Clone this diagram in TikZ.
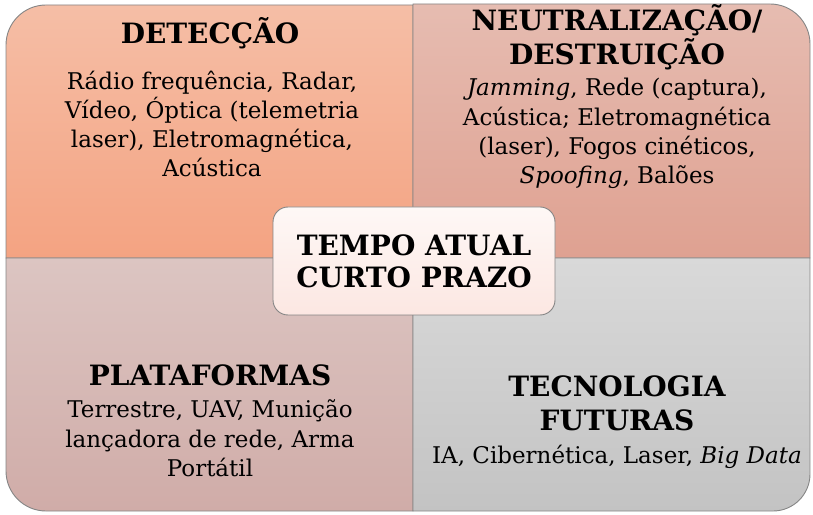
\documentclass[tikz,border=0pt]{standalone}
\usepackage{fontspec}
\setmainfont{DejaVu Serif}
\definecolor{tlTop}{HTML}{F5BEA6}\definecolor{tlBot}{HTML}{F4A382}
\definecolor{trTop}{HTML}{E6BCB1}\definecolor{trBot}{HTML}{DFA191}
\definecolor{blTop}{HTML}{DCC5C2}\definecolor{blBot}{HTML}{D0ACA8}
\definecolor{brTop}{HTML}{D9D9D9}\definecolor{brBot}{HTML}{C3C3C3}
\definecolor{cTop}{HTML}{FEF8F6}\definecolor{cBot}{HTML}{FCE7E2}
\definecolor{edge}{HTML}{858585}
\tikzset{
  quad/.style={draw=edge, line width=0.9pt},
  ttl/.style={align=center, font=\fontsize{28}{34}\selectfont\bfseries, inner sep=0pt},
  bdy/.style={align=center, font=\fontsize{23}{29.3}\selectfont, inner sep=0pt},
}
\begin{document}
\begin{tikzpicture}[x=1pt,y=1pt]
\useasboundingbox (0,0) rectangle (813,514);
% quadrants
\path[quad, top color=tlTop, bottom color=tlBot]
  (6,256) -- (6,469) arc[start angle=180,end angle=90,radius=40] -- (413,509) -- (413,256) -- cycle;
\path[quad, top color=trTop, bottom color=trBot]
  (413,256) -- (413,510) -- (770,510) arc[start angle=90,end angle=0,radius=40] -- (810,256) -- cycle;
\path[quad, top color=blTop, bottom color=blBot]
  (6,256) -- (413,256) -- (413,3) -- (46,3) arc[start angle=270,end angle=180,radius=40] -- cycle;
\path[quad, top color=brTop, bottom color=brBot]
  (413,256) -- (810,256) -- (810,40) arc[start angle=0,end angle=-90,radius=37] -- (413,3) -- cycle;
% centre
\node[draw=edge, line width=0.9pt, rounded corners=15pt, top color=cTop, bottom color=cBot,
  minimum width=282pt, minimum height=108pt, inner sep=0pt] (centre) at (414,253) {};
\node[ttl, font=\fontsize{28}{32}\selectfont\bfseries] (centreText) at (centre.center) {TEMPO ATUAL\\CURTO PRAZO};
% texts
\node[ttl] (detT) at (210,481) {DETECÇÃO};
\node[bdy] (detB) at (212,390) {Rádio frequência, Radar,\\Vídeo, Óptica (telemetria\\laser), Eletromagnética,\\Acústica};
\node[ttl] (neuT) at (617,476.5) {NEUTRALIZAÇÃO/\\DESTRUIÇÃO};
\node[bdy] (neuB) at (617,380.5) {\textit{Jamming}, Rede (captura),\\Acústica; Eletromagnética\\(laser), Fogos cinéticos,\\\textit{Spoofing}, Balões};
\node[ttl] (plaT) at (210,139) {PLATAFORMAS};
\node[bdy] (plaB) at (210,75.5) {Terrestre, UAV, Munição\\lançadora de rede, Arma\\Portátil};
\node[ttl] (tecT) at (617,110.5) {TECNOLOGIA\\FUTURAS};
\node[bdy] (tecB) at (617,57) {IA, Cibernética, Laser, \textit{Big Data}};
\end{tikzpicture}
\end{document}
